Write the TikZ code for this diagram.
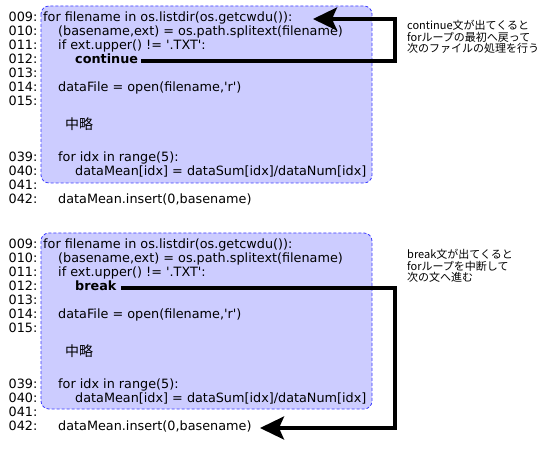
\documentclass[tikz,border=0pt]{standalone}
\usepackage{fontspec}
\setmainfont{DejaVu Sans}
\newfontfamily\cjk{Noto Sans CJK JP}
\usetikzlibrary{arrows.meta}
\definecolor{boxfill}{RGB}{204,204,255}
\definecolor{boxline}{RGB}{60,60,255}
\begin{document}
\begin{tikzpicture}[x=1bp,y=-1bp,
  code/.style={anchor=mid west, inner sep=0pt, font=\fontsize{12.8bp}{14bp}\selectfont},
  chu/.style={anchor=mid west, inner sep=0pt, font=\cjk\fontsize{14bp}{16bp}\selectfont},
  codebox/.style={draw=boxline, fill=boxfill, dash pattern=on 3bp off 2bp, line width=0.8bp, rounded corners=8bp},
  arr/.style={line width=3.5bp, -{Stealth[length=24bp,width=23bp,inset=5bp]}},
  note/.style={anchor=north west, inner sep=0pt, align=left, font=\cjk\fontsize{11bp}{11.5bp}\selectfont}]
\useasboundingbox (0,0) rectangle (540,450);

% ---------- top block ----------
\draw[codebox] (41,6) rectangle (372,183);
\node[code] (an09) at (8.5,19) {009:};
\node[code] (an10) at (8.5,33) {010:};
\node[code] (an11) at (8.5,47) {011:};
\node[code] (an12) at (8.5,61) {012:};
\node[code] (an13) at (8.5,75) {013:};
\node[code] (an14) at (8.5,89) {014:};
\node[code] (an15) at (8.5,103) {015:};
\node[code] (an39) at (8.5,159) {039:};
\node[code] (an40) at (8.5,173) {040:};
\node[code] (an41) at (8.5,187) {041:};
\node[code] (an42) at (8.5,201) {042:};
\node[code] (ac09) at (43,19) {for filename in os.listdir(os.getcwdu()):};
\node[code] (ac10) at (58,33) {(basename,ext) = os.path.splitext(filename)};
\node[code] (ac11) at (58,47) {if ext.upper() != \textquotesingle.TXT\textquotesingle:};
\node[code] (ac12) at (75,61) {\textbf{continue}};
\node[code] (ac14) at (58,89) {dataFile = open(filename,\textquotesingle r\textquotesingle)};
\node[chu]  (achu) at (65,127) {中略};
\node[code] (ac39) at (58,159) {for idx in range(5):};
\node[code] (ac40) at (75,173) {dataMean[idx] = dataSum[idx]/dataNum[idx]};
\node[code] (ac42) at (58,201) {dataMean.insert(0,basename)};

\coordinate (tipA) at (313,19);
\coordinate (turnA) at (395,19);
\draw[arr, shorten <=3bp] (ac12.mid east) -| (turnA) -- (tipA);

\node[note] (noteA) at (407,20) {continue文が出てくると\\forループの最初へ戻って\\次のファイルの処理を行う};

% ---------- bottom block ----------
\draw[codebox] (41,233) rectangle (372,409);
\node[code] (bn09) at (8.5,246) {009:};
\node[code] (bn10) at (8.5,260) {010:};
\node[code] (bn11) at (8.5,274) {011:};
\node[code] (bn12) at (8.5,288) {012:};
\node[code] (bn13) at (8.5,302) {013:};
\node[code] (bn14) at (8.5,316) {014:};
\node[code] (bn15) at (8.5,330) {015:};
\node[code] (bn39) at (8.5,386) {039:};
\node[code] (bn40) at (8.5,400) {040:};
\node[code] (bn41) at (8.5,414) {041:};
\node[code] (bn42) at (8.5,428) {042:};
\node[code] (bc09) at (43,246) {for filename in os.listdir(os.getcwdu()):};
\node[code] (bc10) at (58,260) {(basename,ext) = os.path.splitext(filename)};
\node[code] (bc11) at (58,274) {if ext.upper() != \textquotesingle.TXT\textquotesingle:};
\node[code] (bc12) at (75,288) {\textbf{break}};
\node[code] (bc14) at (58,316) {dataFile = open(filename,\textquotesingle r\textquotesingle)};
\node[chu]  (bchu) at (65,354) {中略};
\node[code] (bc39) at (58,386) {for idx in range(5):};
\node[code] (bc40) at (75,400) {dataMean[idx] = dataSum[idx]/dataNum[idx]};
\node[code] (bc42) at (58,428) {dataMean.insert(0,basename)};

\coordinate (tipB) at (260,428);
\coordinate (turnB) at (395,428);
\draw[arr, shorten <=4bp] (bc12.mid east) -| (turnB) -- (tipB);

\node[note] (noteB) at (407,249) {break文が出てくると\\forループを中断して\\次の文へ進む};
\end{tikzpicture}
\end{document}
